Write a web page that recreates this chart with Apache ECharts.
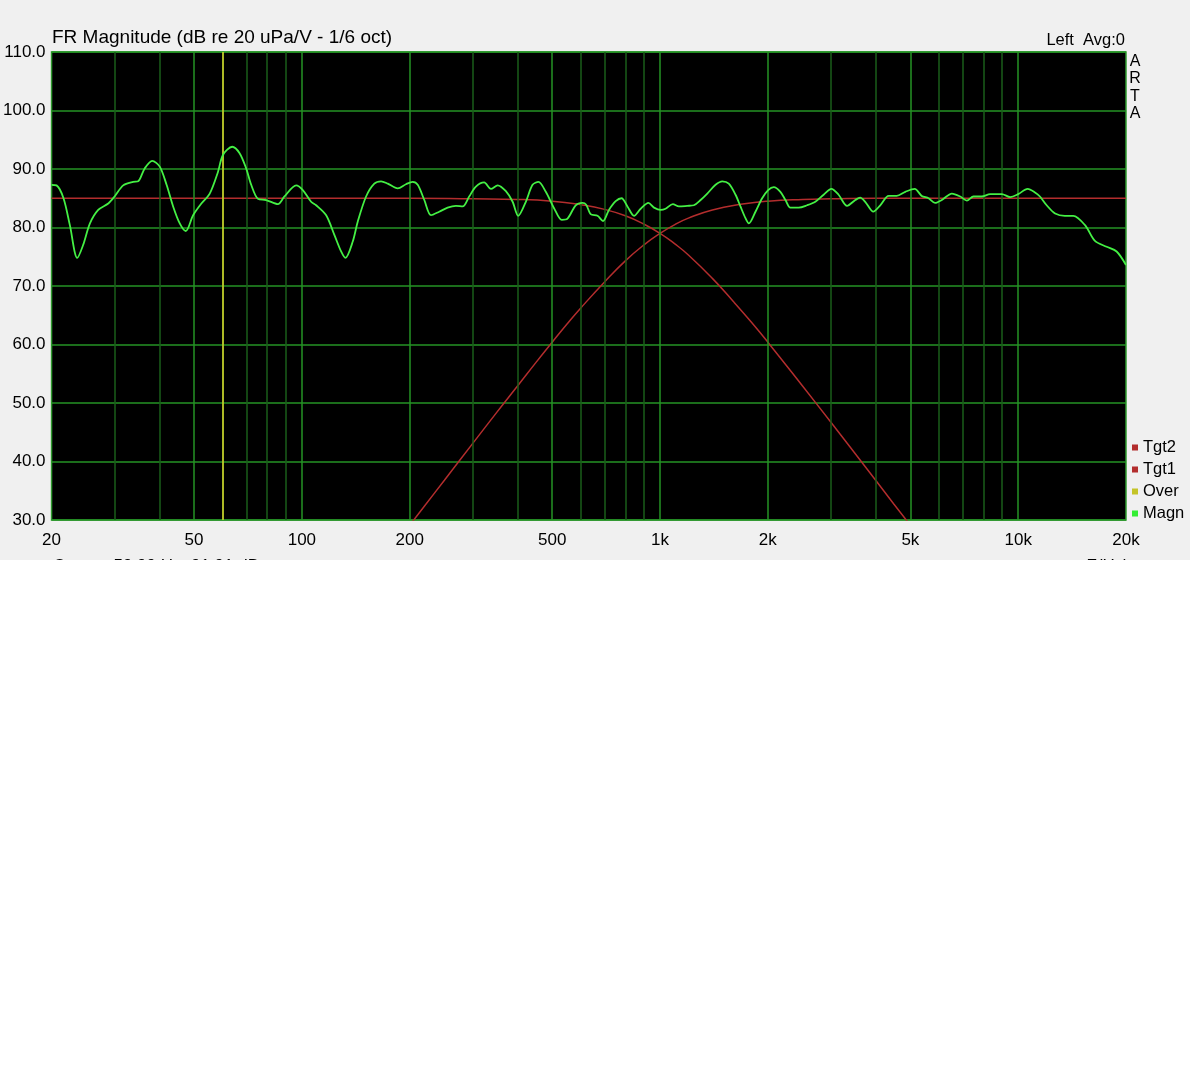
<!DOCTYPE html>
<html>
<head>
<meta charset="utf-8">
<title>FR Magnitude</title>
<script src="https://cdn.jsdelivr.net/npm/echarts/dist/echarts.min.js"></script>
<style>
  html, body { margin: 0; padding: 0; background: #ffffff; }
  #chart { width: 1190px; height: 560px; background: #f0f0f0; }
</style>
</head>
<body>
<div id="chart"></div>
<script>
var magnFreq = [20, 20.65, 21.6, 22.5, 23.6, 24.5, 25.6, 27.0, 28.8, 30.0, 31.7, 33.8, 34.9, 36.4, 38.2, 40.1,
  41.9, 43.7, 45.6, 47.4, 49.7, 52.4, 55.3, 58.3, 60.2, 63.9, 67.0, 69.9, 72.2, 75.4, 79.5, 85.7, 89.4, 96.4,
  100.6, 106.1, 109.6, 116.9, 123.3, 128.7, 132.3, 138.7, 143.2, 151.1, 159.3, 166.4, 173.7, 185.2, 195.3,
  203.9, 210.6, 219.7, 229.4, 241.8, 255.2, 269.2, 281.1, 293.2, 306.1, 322.8, 337.2, 352.0, 371.2, 387.6,
  401.8, 422, 440.6, 457.8, 479.8, 506, 531.7, 551.5, 581.6, 607.2, 622, 640, 669, 693, 720, 752, 781, 811,
  846, 883, 928, 962, 1004, 1036, 1086, 1129, 1191, 1243, 1298, 1355, 1429, 1492, 1556, 1625, 1677, 1732,
  1770, 1847, 1928, 2004, 2078, 2168, 2240, 2312, 2438, 2574, 2714, 2863, 3008, 3152, 3328, 3510, 3620,
  3740, 3940, 4120, 4350, 4580, 4840, 5140, 5380, 5620, 5860, 6120, 6530, 6890, 7190, 7500, 7910, 8350,
  9000, 9500, 10000, 10630, 11140, 11500, 12010, 12680, 13500, 14250, 15370, 16380, 17660, 18830, 20000];
var magnDb = [87.3, 87.2, 85.0, 80.4, 74.8, 77.0, 80.7, 83.0, 84.1, 85.3, 87.2, 87.8, 87.9, 90.1, 91.4, 90.4,
  87.3, 83.6, 80.7, 79.4, 82.1, 84.1, 85.8, 89.5, 92.4, 93.8, 92.7, 90.1, 87.3, 84.9, 84.7, 84.0, 85.3, 87.2,
  86.4, 84.4, 83.8, 82.1, 78.7, 75.9, 74.8, 77.6, 81.0, 85.3, 87.5, 87.9, 87.5, 86.7, 87.4,
  87.8, 87.3, 84.7, 82.1, 82.7, 83.4, 83.7, 83.6, 85.3, 87.0, 87.7, 86.6, 87.2, 86.2, 84.4,
  82.0, 84.4, 87.3, 87.8, 86.1, 83.3, 81.3, 81.5, 83.8, 84.2, 83.9, 82.3, 82.0, 81.1, 83.0, 84.5, 85.0, 83.6,
  82.0, 83.2, 84.2, 83.4, 83.0, 83.2, 84.0, 83.6, 83.7, 83.8, 84.7, 85.8, 87.3, 87.9, 87.5, 85.6, 83.6, 81.6,
  80.7, 82.7, 85.0, 86.4, 86.9, 86.1, 84.7, 83.4, 83.4, 83.8, 84.4, 85.6, 86.6, 85.6, 83.7, 84.7, 85.1,
  84.4, 82.7, 83.8, 85.4, 85.4, 86.1, 86.6, 85.4, 85.0, 84.2, 84.7, 85.8, 85.3, 84.6, 85.3, 85.3, 85.7,
  85.7, 85.2, 85.7, 86.6, 86.0, 85.3, 83.8, 82.4, 82.0, 82.0, 80.4, 77.7, 76.7, 75.9, 73.6];

// target curves (low pass = Tgt1, high pass = Tgt2)
var tgt1Freq = [20, 100, 200, 300, 400, 500, 600, 700, 800, 900, 1000, 1100, 1200, 1400, 1600, 1800, 2000,
  2500, 3000, 3500, 4000, 4500, 5000];
var tgt1Db = [85.0, 85.0, 85.0, 84.9, 84.8, 84.5, 83.9, 83.1, 82.0, 80.6, 79.0, 77.2, 75.3, 71.3, 67.4, 63.8,
  60.4, 52.9, 46.7, 41.4, 36.8, 32.7, 29.1];
var tgt2Freq = [200, 220, 250, 300, 350, 400, 450, 500, 550, 600, 700, 800, 900, 1000, 1100, 1200, 1400,
  1700, 2000, 2500, 3000, 4000, 20000];
var tgt2Db = [29.1, 32.4, 36.8, 43.1, 48.4, 52.9, 56.9, 60.4, 63.5, 66.2, 70.7, 74.3, 77.0, 79.0, 80.5, 81.6,
  83.0, 84.0, 84.5, 84.8, 84.9, 85.0, 85.0];

var cursorFreq = 59.99;
var cursorDb = 91.91;

var xTickValues = [20, 50, 100, 200, 500, 1000, 2000, 5000, 10000, 20000];
var xTickLabels = ['20', '50', '100', '200', '500', '1k', '2k', '5k', '10k', '20k'];
var majorGrid = [50, 100, 200, 500, 1000, 2000, 5000, 10000];
var minorGrid = [30, 40, 60, 70, 80, 90, 300, 400, 600, 700, 800, 900, 3000, 4000, 6000, 7000, 8000, 9000];

function pairs(xs, ys) {
  return xs.map(function (x, i) { return [x, ys[i]]; });
}
function vlines(list) {
  return list.map(function (f) { return { xAxis: f }; });
}

var font = '"Liberation Sans", Arial, sans-serif';
var chart = echarts.init(document.getElementById('chart'));

var option = {
  animation: false,
  backgroundColor: '#f0f0f0',
  textStyle: { fontFamily: font },
  grid: {
    left: 50, top: 52, width: 1076, height: 468,
    show: true, backgroundColor: '#000000',
    borderColor: '#2f9a2f', borderWidth: 1.5
  },
  legend: {
    data: ['Tgt2', 'Tgt1', 'Over', 'Magn'],
    orient: 'vertical',
    left: 1132, top: 439,
    padding: 0,
    icon: 'rect',
    itemWidth: 6, itemHeight: 6,
    itemGap: 5,
    selectedMode: false,
    textStyle: { fontFamily: font, fontSize: 16.5, lineHeight: 16, color: '#000' }
  },
  xAxis: {
    type: 'log', logBase: 10, min: 20, max: 20000,
    axisLine: { show: false }, axisTick: { show: false },
    axisLabel: { show: false }, splitLine: { show: false }
  },
  yAxis: {
    type: 'value', min: 30, max: 110, interval: 10,
    axisLine: { show: false }, axisTick: { show: false },
    axisLabel: {
      fontFamily: font, fontSize: 17, color: '#000', margin: 6,
      formatter: function (v) { return v.toFixed(1); }
    },
    splitLine: { lineStyle: { color: '#259325', width: 1.5 } }
  },
  series: [
    {
      name: 'gridMinor', type: 'line', data: [], z: 1, silent: true,
      markLine: {
        silent: true, symbol: ['none', 'none'], label: { show: false },
        lineStyle: { color: '#1a5e1a', width: 1.5, type: 'solid', opacity: 1 },
        data: vlines(minorGrid)
      }
    },
    {
      name: 'gridMajor', type: 'line', data: [], z: 1, silent: true,
      markLine: {
        silent: true, symbol: ['none', 'none'], label: { show: false },
        lineStyle: { color: '#259325', width: 1.5, type: 'solid', opacity: 1 },
        data: vlines(majorGrid)
      }
    },
    {
      name: 'Tgt2', type: 'line', z: 3, smooth: true, showSymbol: false,
      color: '#b32d2d',
      lineStyle: { color: '#b32d2d', width: 1.5 },
      data: pairs(tgt2Freq, tgt2Db)
    },
    {
      name: 'Tgt1', type: 'line', z: 3, smooth: true, showSymbol: false,
      color: '#b32d2d',
      lineStyle: { color: '#b32d2d', width: 1.5 },
      data: pairs(tgt1Freq, tgt1Db)
    },
    {
      name: 'Over', type: 'line', z: 4, data: [],
      color: '#c4c428',
      markLine: {
        silent: true, symbol: ['none', 'none'], label: { show: false },
        lineStyle: { color: '#e2e22e', width: 1.5, type: 'solid', opacity: 1 },
        data: [{ xAxis: cursorFreq }]
      }
    },
    {
      name: 'Magn', type: 'line', z: 5, smooth: 0.3, showSymbol: false,
      color: '#33ee33',
      lineStyle: { color: '#44f044', width: 1.8 },
      data: pairs(magnFreq, magnDb)
    },
    {
      // frequency tick labels under the plot
      name: 'xticks', type: 'scatter', symbolSize: 0.01, clip: false, silent: true, z: 6,
      itemStyle: { color: '#000', opacity: 1 },
      data: xTickValues.map(function (f) { return [f, 30]; }),
      label: {
        show: true, position: 'bottom', distance: 11.5, opacity: 1,
        fontFamily: font, fontSize: 17, lineHeight: 17, color: '#000000',
        formatter: function (p) { return xTickLabels[p.dataIndex]; }
      }
    }
  ],
  graphic: [
    {
      type: 'text', x: 52, y: 37.5,
      style: {
        text: 'FR Magnitude (dB re 20 uPa/V - 1/6 oct)',
        font: '19px ' + font, fill: '#000', verticalAlign: 'middle'
      }
    },
    {
      type: 'text', x: 1125, y: 40.2,
      style: {
        text: 'Left  Avg:0', font: '16.5px ' + font, fill: '#000',
        align: 'right', verticalAlign: 'middle'
      }
    },
    {
      type: 'text', x: 1135, y: 53.1,
      style: {
        text: 'A\nR\nT\nA', font: '16px ' + font, lineHeight: 17.2, fill: '#000',
        align: 'center', verticalAlign: 'top'
      }
    },
    {
      type: 'text', x: 53, y: 566.5,
      style: {
        text: 'Cursor: ' + cursorFreq.toFixed(2) + ' Hz, ' + cursorDb.toFixed(2) + ' dB',
        font: '17px ' + font, fill: '#000', verticalAlign: 'middle'
      }
    },
    {
      type: 'text', x: 1129, y: 566.5,
      style: {
        text: 'F(Hz)', font: '17px ' + font, fill: '#000',
        align: 'right', verticalAlign: 'middle'
      }
    }
  ]
};

chart.setOption(option);
</script>
</body>
</html>
